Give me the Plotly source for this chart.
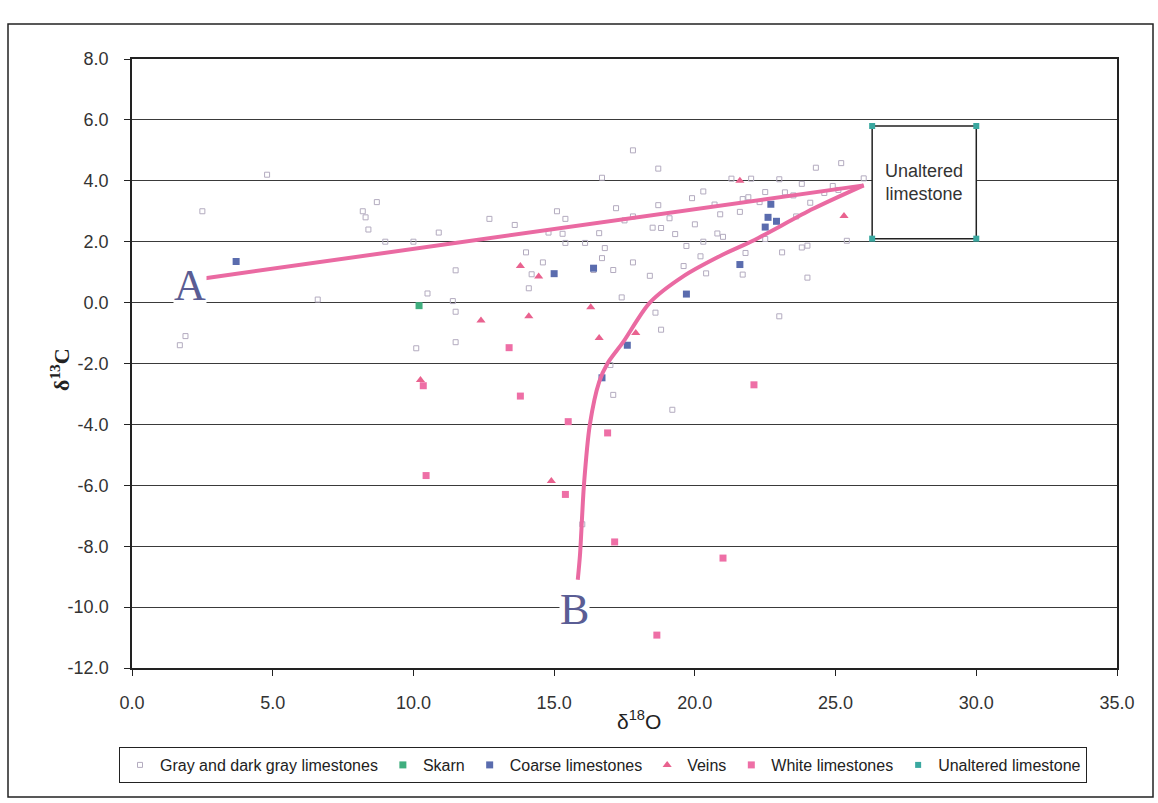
import plotly.graph_objects as go

# ---------------- data ----------------
gray_x = [2.5, 4.8, 1.7, 1.9, 8.7, 8.3, 8.4, 9.0, 10.0, 10.1, 6.6, 10.5, 11.4, 11.5, 11.5,
          10.9, 11.5, 12.7, 13.6, 14.0, 14.2, 14.1, 14.8, 15.1, 15.3, 15.4, 17.8, 18.7, 16.7,
          17.2, 17.8, 18.7, 18.8, 19.3, 19.9, 20.3, 20.7, 21.3, 22.0, 23.0, 24.3, 25.2, 26.0,
          21.7, 21.8, 23.0, 18.6, 18.8, 19.2, 17.0, 17.1, 16.0, 16.4, 16.7, 17.1, 17.4, 17.8,
          18.4, 19.6, 20.4, 20.2, 21.0, 22.5, 23.1, 23.8, 24.0, 23.6, 24.1, 24.6, 24.9, 23.5,
          21.6, 21.9, 23.2, 22.5, 20.8, 20.3, 20.0, 19.7, 19.1, 18.5, 17.5, 16.6, 16.1, 15.4,
          16.8, 14.6, 25.4, 24.0, 8.2, 22.3, 23.8, 25.1, 20.9, 21.7]
gray_y = [3.0, 4.2, -1.4, -1.1, 3.3, 2.8, 2.4, 2.0, 2.0, -1.5, 0.1, 0.3, 0.05, -0.3, -1.3,
          2.3, 1.06, 2.75, 2.55, 1.65, 0.93, 0.47, 2.3, 3.0, 2.26, 2.75, 5.0, 4.4, 4.1,
          3.1, 2.83, 3.2, 2.45, 2.25, 3.43, 3.65, 3.22, 4.07, 4.07, 4.05, 4.43, 4.58, 4.08,
          0.92, 1.63, -0.45, -0.33, -0.89, -3.52, -2.05, -3.03, -7.28, 1.07, 1.46, 1.07, 0.17, 1.32,
          0.88, 1.2, 0.96, 1.52, 2.16, 2.09, 1.65, 1.81, 1.87, 2.83, 3.28, 3.6, 3.83, 3.52,
          2.98, 3.46, 3.62, 3.63, 2.27, 2.0, 2.57, 1.86, 2.77, 2.46, 2.7, 2.28, 1.96, 1.96,
          1.79, 1.32, 2.03, 0.82, 3.0, 3.3, 3.9, 3.7, 2.9, 3.4]

skarn_x = [10.2]
skarn_y = [-0.1]

coarse_x = [3.7, 15.0, 16.4, 17.6, 19.7, 21.6, 22.6, 22.9, 22.5, 22.7, 16.7]
coarse_y = [1.35, 0.95, 1.13, -1.4, 0.28, 1.25, 2.8, 2.67, 2.48, 3.23, -2.47]

veins_x = [10.25, 12.4, 13.8, 14.45, 14.1, 16.3, 16.6, 17.9, 14.9, 25.3, 21.6]
veins_y = [-2.54, -0.59, 1.2, 0.86, -0.45, -0.15, -1.16, -1.0, -5.86, 2.84, 4.0]

white_x = [10.35, 10.45, 13.4, 13.8, 15.5, 15.4, 16.9, 17.15, 21.0, 22.1, 18.65]
white_y = [-2.73, -5.68, -1.48, -3.07, -3.91, -6.3, -4.28, -7.86, -8.39, -2.7, -10.92]

unaltered_x = [26.3, 30.0, 30.0, 26.3]
unaltered_y = [5.8, 5.8, 2.1, 2.1]

trend_a_x = [2.6, 26.0]
trend_a_y = [0.8, 3.85]

trend_b_x = [15.84, 15.92, 16.06, 16.27, 16.6, 16.9, 17.45, 18.4, 19.6, 21.0, 22.1, 24.2, 26.0]
trend_b_y = [-9.1, -8.27, -5.98, -4.0, -2.6, -1.99, -1.3, 0.0, 0.87, 1.58, 2.05, 3.08, 3.85]

x_ticks = [0, 5, 10, 15, 20, 25, 30, 35]
x_ticktext = ["0.0", "5.0", "10.0", "15.0", "20.0", "25.0", "30.0", "35.0"]
y_ticks = [-12, -10, -8, -6, -4, -2, 0, 2, 4, 6, 8]
y_ticktext = ["-12.0", "-10.0", "-8.0", "-6.0", "-4.0", "-2.0", "0.0", "2.0", "4.0", "6.0", "8.0"]

# ---------------- layout geometry ----------------
W, H = 1158, 803
L, R, T, B = 132, 41, 59, 135
PW, PH = W - L - R, H - T - B


def pxx(px):
    return (px - L) / PW


def pxy(py):
    return (H - B - py) / PH


SANS = "Liberation Sans, Arial, sans-serif"
SERIF = "Liberation Serif, Times New Roman, serif"
PINK_LINE = "#ea6aa2"

fig = go.Figure()

# unaltered limestone box (white filled, black outline)
fig.add_trace(go.Scatter(
    x=unaltered_x + unaltered_x[:1], y=unaltered_y + unaltered_y[:1],
    mode="lines", fill="toself", fillcolor="white",
    line=dict(color="#222222", width=1.5), showlegend=False, hoverinfo="skip"))

fig.add_trace(go.Scatter(
    x=gray_x, y=gray_y, mode="markers", name="Gray and dark gray limestones",
    marker=dict(symbol="square-open", size=5, color="#b3abbf", line=dict(width=1))))
fig.add_trace(go.Scatter(
    x=skarn_x, y=skarn_y, mode="markers", name="Skarn",
    marker=dict(symbol="square", size=7, color="#3fae7e")))
fig.add_trace(go.Scatter(
    x=coarse_x, y=coarse_y, mode="markers", name="Coarse limestones",
    marker=dict(symbol="square", size=7, color="#5a6cae")))
fig.add_trace(go.Scatter(
    x=veins_x, y=veins_y, mode="markers", name="Veins",
    marker=dict(symbol="triangle-up", size=8, color="#e9628f")))
fig.add_trace(go.Scatter(
    x=white_x, y=white_y, mode="markers", name="White limestones",
    marker=dict(symbol="square", size=7, color="#ee6fa6")))

# trend lines A and B
fig.add_trace(go.Scatter(
    x=trend_a_x, y=trend_a_y, mode="lines",
    line=dict(color=PINK_LINE, width=4), showlegend=False, hoverinfo="skip"))
fig.add_trace(go.Scatter(
    x=trend_b_x, y=trend_b_y, mode="lines",
    line=dict(color=PINK_LINE, width=4, shape="spline", smoothing=0.8),
    showlegend=False, hoverinfo="skip"))

fig.add_trace(go.Scatter(
    x=unaltered_x, y=unaltered_y, mode="markers", name="Unaltered limestone",
    marker=dict(symbol="square", size=6, color="#3aa8a0")))

annotations = [
    dict(x=2.06, y=0.57, xref="x", yref="y", text="A", showarrow=False,
         xanchor="center", yanchor="middle",
         font=dict(family=SERIF, size=44, color="#5a5d94"), bgcolor="white", borderpad=0),
    dict(x=15.72, y=-10.09, xref="x", yref="y", text="B", showarrow=False,
         xanchor="center", yanchor="middle",
         font=dict(family=SERIF, size=44, color="#5a5d94"), bgcolor="white", borderpad=0),
    dict(x=28.15, y=3.95, xref="x", yref="y", text="Unaltered<br>limestone", showarrow=False,
         xanchor="center", yanchor="middle",
         font=dict(family=SANS, size=18, color="#333333")),
    dict(x=pxx(60), y=pxy(370), xref="paper", yref="paper", text="<b>δ<sup>13</sup>C</b>",
         showarrow=False, textangle=-90, xanchor="center", yanchor="middle",
         font=dict(family=SERIF, size=22, color="#222222")),
    dict(x=pxx(639), y=pxy(720), xref="paper", yref="paper", text="δ<sup>18</sup>O",
         showarrow=False, xanchor="center", yanchor="middle",
         font=dict(family=SANS, size=21, color="#222222")),
]

fig.update_layout(
    width=W, height=H,
    margin=dict(l=L, r=R, t=T, b=B, autoexpand=False),
    paper_bgcolor="white", plot_bgcolor="white",
    font=dict(family=SANS, size=18, color="#333333"),
    showlegend=True,
    legend=dict(orientation="h", x=pxx(603), xanchor="center",
                y=pxy(765), yanchor="middle",
                bordercolor="#222222", borderwidth=1, bgcolor="white",
                font=dict(family=SANS, size=16, color="#222222"), itemwidth=30),
    annotations=annotations,
    shapes=[dict(type="rect", xref="paper", yref="paper",
                 x0=pxx(8), x1=pxx(1153), y0=pxy(797), y1=pxy(24),
                 line=dict(color="#222222", width=1.5), layer="below")],
    xaxis=dict(range=[0, 35], tickvals=x_ticks, ticktext=x_ticktext, showgrid=False,
               zeroline=False, showline=True, linecolor="#222222", linewidth=1.5, mirror=True,
               ticks="outside", ticklen=6, tickcolor="#222222", ticklabelstandoff=12,
               tickfont=dict(family=SANS, size=18, color="#333333")),
    yaxis=dict(range=[-12, 8], tickvals=y_ticks, ticktext=y_ticktext, showgrid=True,
               gridcolor="#3a3a3a", gridwidth=1.3, zeroline=False, showline=True,
               linecolor="#222222", linewidth=1.5, mirror=True, ticks="outside", ticklen=6,
               tickcolor="#222222", ticklabelstandoff=12,
               tickfont=dict(family=SANS, size=18, color="#333333")),
)

fig.write_html("out.html")
